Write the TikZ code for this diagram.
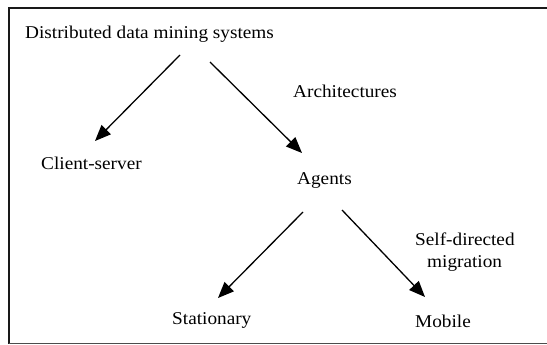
\documentclass[tikz,border=0pt]{standalone}
\usepackage{fontspec}
\setmainfont[FakeStretch=1.07]{Liberation Serif}
\usetikzlibrary{arrows.meta}
\begin{document}
\begin{tikzpicture}[x=1pt,y=-1pt,
  lbl/.style={anchor=base west,inner sep=0pt,font=\fontsize{18}{21}\selectfont},
  arr/.style={line width=1.3pt,-{Triangle[length=16pt,width=13pt]}}]
\useasboundingbox (0,0) rectangle (547,345);
\draw[line width=2.2pt,black!90] (9,343.5) -- (9,8) -- (547,8);
\draw[line width=1pt,black!70] (9,343.5) -- (547,343.5);
\node[lbl] (dds) at (25,39) {Distributed data mining systems};
\node[lbl] (arch) at (293,98) {Architectures};
\node[lbl] (cs) at (41,169) {Client-server};
\node[lbl] (ag) at (297,185) {Agents};
\node[lbl] (sd) at (415,245) {Self-directed};
\node[lbl] (mig) at (427,267) {migration};
\node[lbl] (st) at (172,324) {Stationary};
\node[lbl] (mob) at (415,327) {Mobile};
\coordinate (a1s) at (180,55);
\coordinate (a1e) at (95,141);
\coordinate (a2s) at (210,62);
\coordinate (a2e) at (302,153);
\coordinate (a3s) at (303,212);
\coordinate (a3e) at (218,298);
\coordinate (a4s) at (342,210);
\coordinate (a4e) at (425,297);
\draw[arr] (a1s) -- (a1e);
\draw[arr] (a2s) -- (a2e);
\draw[arr] (a3s) -- (a3e);
\draw[arr] (a4s) -- (a4e);
\end{tikzpicture}
\end{document}
